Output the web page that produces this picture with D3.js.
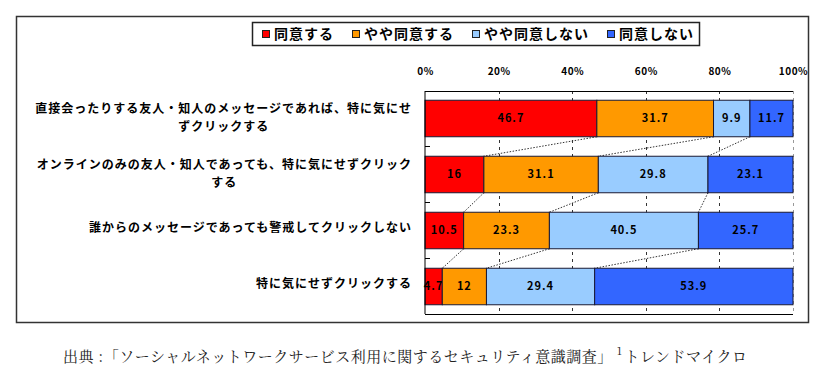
<!DOCTYPE html>
<html lang="ja">
<head>
<meta charset="UTF-8">
<title>SNS security survey</title>
<style>
  body { margin: 0; background: #fff; }
  svg { display: block; }
  .lbl { font-family: "Noto Sans CJK JP", sans-serif; font-weight: bold; fill: #000; }
</style>
</head>
<body>
<div id="chart"></div>
<script src="https://d3js.org/d3.v7.min.js"></script>
<script>
// data
const categories = [
  "直接会ったりする友人・知人のメッセージであれば、特に気にせ\nずクリックする",
  "オンラインのみの友人・知人であっても、特に気にせずクリック\nする",
  "誰からのメッセージであっても警戒してクリックしない",
  "特に気にせずクリックする"
]
const seriesNames = ["同意する", "やや同意する", "やや同意しない", "同意しない"]
const agree = [46.7, 16, 10.5, 4.7]
const ratherAgree = [31.7, 31.1, 23.3, 12]
const ratherDisagree = [9.9, 29.8, 40.5, 29.4]
const disagree = [11.7, 23.1, 25.7, 53.9]
const xTicks = [0, 20, 40, 60, 80, 100]
const source = "出典 :「ソーシャルネットワークサービス利用に関するセキュリティ意識調査」"
const sourceNote = "1"
const sourceTail = "トレンドマイクロ"

const colors = ["#ff0000", "#ff9900", "#99ccff", "#3366ff"]

const W = 826, H = 374
const svg = d3.select('#chart').append('svg')
  .attr('width', W)
  .attr('height', H)

// outer frame
svg.append('rect')
  .attr('x', 16.5).attr('y', 16.5)
  .attr('width', 792).attr('height', 306)
  .attr('fill', 'none').attr('stroke', '#333').attr('stroke-width', 1.5)

const x = d3.scaleLinear().domain([0, 100]).range([425, 793])
const y = d3.scaleBand().domain(categories).range([91, 314])
  .paddingInner(0.348).paddingOuter(0.165)

// stacked table
const table = categories.map((c, i) => ({
  cat: c,
  v0: agree[i], v1: ratherAgree[i], v2: ratherDisagree[i], v3: disagree[i]
}))
const stacked = d3.stack().keys(["v0", "v1", "v2", "v3"])(table)

const plot = svg.append('g')

// plot background + dashed grid
plot.append('rect')
  .attr('x', x(0)).attr('y', 91)
  .attr('width', x(100) - x(0)).attr('height', 223)
  .attr('fill', '#fff')

plot.selectAll('.grid')
  .data(xTicks.filter(d => d > 0))
  .enter().append('line')
  .attr('class', 'grid')
  .attr('x1', d => Math.round(x(d)) + 0.5).attr('x2', d => Math.round(x(d)) + 0.5)
  .attr('y1', 91).attr('y2', 314)
  .attr('stroke', d => d == 100 ? '#999' : '#333')
  .attr('stroke-dasharray', '3,4')

// left ticks at band boundaries
const step = y.step()
plot.selectAll('.ltick')
  .data(d3.range(1, categories.length))
  .enter().append('line')
  .attr('x1', x(0)).attr('x2', x(0) + 5)
  .attr('y1', i => y(categories[i]) - (step - y.bandwidth()) / 2)
  .attr('y2', i => y(categories[i]) - (step - y.bandwidth()) / 2)
  .attr('stroke', '#000')

// series lines (dotted) between bars
const links = []
for (let s = 0; s < 3; s++) {
  for (let i = 0; i < categories.length - 1; i++) {
    links.push({
      x1: x(stacked[s][i][1]), y1: y(categories[i]) + y.bandwidth(),
      x2: x(stacked[s][i + 1][1]), y2: y(categories[i + 1])
    })
  }
}
plot.selectAll('.link')
  .data(links)
  .enter().append('line')
  .attr('x1', d => d.x1).attr('y1', d => d.y1)
  .attr('x2', d => d.x2).attr('y2', d => d.y2)
  .attr('stroke', '#333')
  .attr('stroke-dasharray', '1.5,1.5')

// bars
const layer = plot.selectAll('.layer')
  .data(stacked)
  .enter().append('g')
  .attr('fill', (d, i) => colors[i])

layer.selectAll('rect')
  .data(d => d)
  .enter().append('rect')
  .attr('x', d => x(d[0]))
  .attr('y', d => y(d.data.cat))
  .attr('width', d => x(d[1]) - x(d[0]))
  .attr('height', y.bandwidth())
  .attr('stroke', '#1a1a33')
  .attr('stroke-width', 1)

layer.selectAll('text')
  .data(d => d)
  .enter().append('text')
  .attr('class', 'lbl')
  .attr('x', d => (x(d[0]) + x(d[1])) / 2)
  .attr('y', d => y(d.data.cat) + y.bandwidth() / 2)
  .attr('dy', '0.36em')
  .attr('text-anchor', 'middle')
  .style('font-size', '11px')
  .style('letter-spacing', '1px')
  .text(d => d[1] - d[0] > 0 ? +(d[1] - d[0]).toFixed(1) : '')

// plot border
plot.append('line').attr('x1', x(0)).attr('x2', x(0)).attr('y1', 91).attr('y2', 314).attr('stroke', '#000')
plot.append('line').attr('x1', x(0)).attr('x2', x(100)).attr('y1', 91.5).attr('y2', 91.5).attr('stroke', '#000')
plot.append('line').attr('x1', x(0)).attr('x2', x(100)).attr('y1', 314.5).attr('y2', 314.5).attr('stroke', '#000')

// top axis
const xAxis = d3.axisTop(x)
  .tickValues(xTicks)
  .tickSize(0)
  .tickPadding(0)
  .tickFormat(d => d + '%')
const ax = svg.append('g')
  .attr('transform', 'translate(0, 75)')
  .call(xAxis)
ax.select('.domain').remove()
ax.selectAll('text')
  .attr('class', 'lbl')
  .attr('fill', '#000')
  .style('font-size', '10px')
  .style('letter-spacing', '0.5px')

// category labels
categories.forEach(c => {
  const lines = c.split('\n')
  const cy = y(c) + y.bandwidth() / 2
  const t = svg.append('g')
  if (lines.length == 1) {
    t.append('text')
      .attr('class', 'lbl')
      .attr('x', 412).attr('y', cy - 3)
      .attr('dy', '0.36em')
      .attr('text-anchor', 'end')
      .style('font-size', '12px')
      .style('letter-spacing', '1px')
      .text(lines[0])
  } else {
    const first = t.append('text')
      .attr('class', 'lbl')
      .attr('x', 412).attr('y', cy - 10)
      .attr('dy', '0.36em')
      .attr('text-anchor', 'end')
      .style('font-size', '12px')
      .style('letter-spacing', '1px')
      .text(lines[0])
    const w = first.node().getComputedTextLength()
    t.append('text')
      .attr('class', 'lbl')
      .attr('x', 412 - w / 2).attr('y', cy + 8)
      .attr('dy', '0.36em')
      .attr('text-anchor', 'middle')
      .style('font-size', '12px')
      .style('letter-spacing', '1px')
      .text(lines[1])
  }
})

// legend
const legend = svg.append('g')
legend.append('rect')
  .attr('x', 252.5).attr('y', 22.5)
  .attr('width', 447).attr('height', 23)
  .attr('fill', '#fff').attr('stroke', '#222').attr('stroke-width', 1.5)

let lx = 262
seriesNames.forEach((n, i) => {
  legend.append('rect')
    .attr('x', lx + 0.5).attr('y', 30.5)
    .attr('width', 7).attr('height', 7)
    .attr('fill', colors[i]).attr('stroke', '#222')
  const t = legend.append('text')
    .attr('class', 'lbl')
    .attr('x', lx + 12).attr('y', 34)
    .attr('dy', '0.36em')
    .style('font-size', '14px')
    .style('letter-spacing', '1px')
    .text(n)
  lx = lx + 12 + t.node().getComputedTextLength() + 18
})

// source line
const src = svg.append('text')
  .attr('x', 63).attr('y', 362)
  .style('font-family', '"Noto Serif CJK JP", serif, "Noto Sans CJK JP"')
  .style('font-size', '15px')
  .style('letter-spacing', '0.5px')
  .attr('fill', '#222')
src.append('tspan').text(source)
src.append('tspan').attr('dy', -7).attr('dx', 4).style('font-size', '11px').text(sourceNote)
src.append('tspan').attr('dy', 7).attr('dx', 2).text(sourceTail)
</script>
</body>
</html>
